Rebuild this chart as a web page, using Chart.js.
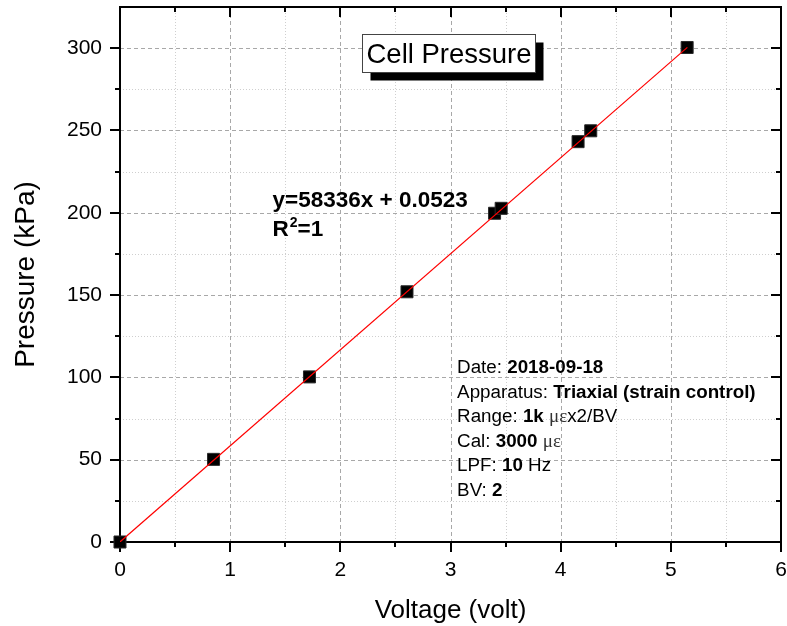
<!DOCTYPE html>
<html>
<head>
<meta charset="utf-8">
<script src="https://cdn.jsdelivr.net/npm/chart.js@4"></script>
<style>
  html, body { margin: 0; padding: 0; background: #fff; }
  canvas { display: block; }
</style>
</head>
<body>
<canvas id="chart" width="787" height="626"></canvas>
<script>
// Calibration points: transducer output vs applied cell pressure
const voltage  = [0, 0.849, 1.72, 2.605, 3.40, 3.46, 4.158, 4.273, 5.148];
const pressure = [0, 50.2, 100.3, 152.0, 199.7, 202.7, 243.2, 249.8, 300.4];

// Linear fit end points (y = 58336x + 0.0523, x scaled to volts)
const fitVoltage  = [0, 5.15];
const fitPressure = [0.0523, 300.48];

// Axis ticks
const xMajorTicks = [0, 1, 2, 3, 4, 5, 6];
const xMinorTicks = [0.5, 1.5, 2.5, 3.5, 4.5, 5.5];
const yMajorTicks = [0, 50, 100, 150, 200, 250, 300];
const yMinorTicks = [25, 75, 125, 175, 225, 275, 325];

// Text blocks
const titleText = 'Cell Pressure';
const fitEquation = 'y=58336x + 0.0523';
const fitR2 = ['R', '2', '=1'];
const infoLines = [
  [['Date: ', 'r'], ['2018-09-18', 'b']],
  [['Apparatus: ', 'r'], ['Triaxial (strain control)', 'b']],
  [['Range: ', 'r'], ['1k', 'b'], [' ', 'r'], ['\u03bc\u03b5', 's'], ['x2/BV', 'r']],
  [['Cal: ', 'r'], ['3000', 'b'], [' ', 'r'], ['\u03bc\u03b5', 's']],
  [['LPF: ', 'r'], ['10', 'b'], [' Hz', 'r']],
  [['BV: ', 'r'], ['2', 'b']]
];

const SANS = "'Liberation Sans', Arial, sans-serif";
const SERIF = "'Liberation Serif', 'Times New Roman', serif";

const gridAndFrame = {
  id: 'gridAndFrame',
  beforeDatasetsDraw(chart) {
    const { ctx, chartArea: a, scales: { x, y } } = chart;
    const px = v => Math.round(x.getPixelForValue(v)) + 0.5;
    const py = v => Math.round(y.getPixelForValue(v)) + 0.5;
    const vline = (X) => { ctx.beginPath(); ctx.moveTo(X, a.top); ctx.lineTo(X, a.bottom); ctx.stroke(); };
    const hline = (Y) => { ctx.beginPath(); ctx.moveTo(a.left, Y); ctx.lineTo(a.right, Y); ctx.stroke(); };
    ctx.save();
    ctx.lineWidth = 1;

    // minor grid: dotted
    ctx.strokeStyle = '#cfcfcf';
    ctx.setLineDash([1, 2]);
    xMinorTicks.forEach(v => vline(px(v)));
    yMinorTicks.filter(v => v < y.max).forEach(v => hline(py(v)));

    // major grid: dashed
    ctx.strokeStyle = '#a8a8a8';
    ctx.setLineDash([4, 3]);
    xMajorTicks.filter(v => v > x.min && v < x.max).forEach(v => vline(px(v)));
    yMajorTicks.filter(v => v > y.min && v < y.max).forEach(v => hline(py(v)));
    ctx.setLineDash([]);

    // tick marks: outward on bottom/left, inward on top/right
    ctx.strokeStyle = '#000';
    ctx.lineWidth = 2;
    const xTick = (v, len) => {
      const X = Math.round(x.getPixelForValue(v));
      ctx.beginPath(); ctx.moveTo(X, a.bottom); ctx.lineTo(X, a.bottom + len); ctx.stroke();
      ctx.beginPath(); ctx.moveTo(X, a.top); ctx.lineTo(X, a.top + len); ctx.stroke();
    };
    const yTick = (v, len) => {
      const Y = Math.round(y.getPixelForValue(v));
      ctx.beginPath(); ctx.moveTo(a.left - len, Y); ctx.lineTo(a.left, Y); ctx.stroke();
      ctx.beginPath(); ctx.moveTo(a.right - len, Y); ctx.lineTo(a.right, Y); ctx.stroke();
    };
    xMajorTicks.forEach(v => xTick(v, 10));
    xMinorTicks.forEach(v => xTick(v, 5));
    yMajorTicks.forEach(v => yTick(v, 10));
    yMinorTicks.filter(v => v < y.max).forEach(v => yTick(v, 5));

    // axis frame
    ctx.strokeRect(a.left, a.top, a.right - a.left, a.bottom - a.top);
    ctx.restore();
  }
};

const annotations = {
  id: 'annotations',
  afterDraw(chart) {
    const { ctx, scales: { x, y } } = chart;
    ctx.save();

    // title box with drop shadow
    const boxW = 173, boxH = 38;
    const bx = Math.round(x.getPixelForValue(2.985) - boxW / 2) + 0.5;
    const by = Math.round(y.getPixelForValue(308.6)) + 0.5;
    ctx.fillStyle = '#000';
    ctx.fillRect(bx + 8, by + 8, boxW, boxH);
    ctx.fillStyle = '#fff';
    ctx.fillRect(bx, by, boxW, boxH);
    ctx.strokeStyle = '#444';
    ctx.lineWidth = 1;
    ctx.strokeRect(bx, by, boxW, boxH);
    ctx.fillStyle = '#000';
    ctx.font = `27.5px ${SANS}`;
    ctx.textAlign = 'center';
    ctx.textBaseline = 'alphabetic';
    ctx.fillText(titleText, bx + boxW / 2, by + 28.5);

    // fit equation
    ctx.textAlign = 'left';
    const ex = x.getPixelForValue(1.385);
    const ey = y.getPixelForValue(203.7);
    ctx.font = `bold 22.5px ${SANS}`;
    ctx.fillText(fitEquation, ex, ey);
    let cx = ex;
    const ey2 = ey + 29.5;
    ctx.fillText(fitR2[0], cx, ey2);
    cx += ctx.measureText(fitR2[0]).width + 1;
    ctx.font = `bold 14px ${SANS}`;
    ctx.fillText(fitR2[1], cx, ey2 - 9);
    cx += ctx.measureText(fitR2[1]).width;
    ctx.font = `bold 22.5px ${SANS}`;
    ctx.fillText(fitR2[2], cx, ey2);

    // measurement info block
    const ix = x.getPixelForValue(3.06);
    const iy = y.getPixelForValue(102.4);
    const fonts = {
      r: `18.8px ${SANS}`,
      b: `bold 18.8px ${SANS}`,
      s: `19px ${SERIF}`
    };
    infoLines.forEach((runs, i) => {
      let lx = ix;
      const ly = iy + i * 24.5;
      runs.forEach(([text, kind]) => {
        ctx.font = fonts[kind];
        ctx.fillStyle = kind === 's' ? '#333' : '#000';
        ctx.fillText(text, lx, ly);
        lx += ctx.measureText(text).width;
      });
    });
    ctx.restore();
  }
};

const noEdgePadding = s => {
  s.paddingTop = 0; s.paddingBottom = 0; s.paddingLeft = 0; s.paddingRight = 0;
};

new Chart(document.getElementById('chart'), {
  type: 'scatter',
  data: {
    datasets: [
      {
        label: 'Linear fit',
        data: fitVoltage.map((v, i) => ({ x: v, y: fitPressure[i] })),
        showLine: true,
        borderColor: '#ff0000',
        borderWidth: 1.2,
        pointRadius: 0,
        order: 0
      },
      {
        label: 'Cell Pressure',
        data: voltage.map((v, i) => ({ x: v, y: pressure[i] })),
        pointStyle: 'rect',
        pointRadius: 8.5,
        pointHoverRadius: 8.5,
        backgroundColor: '#000',
        borderColor: '#2a2a2a',
        borderWidth: 1,
        clip: false,
        order: 1
      }
    ]
  },
  options: {
    responsive: false,
    animation: false,
    layout: { autoPadding: false, padding: { left: 0, right: 6, top: 7, bottom: 0 } },
    plugins: { legend: { display: false }, tooltip: { enabled: false } },
    scales: {
      x: {
        type: 'linear',
        min: 0,
        max: 6,
        afterBuildTicks: s => { s.ticks = xMajorTicks.map(v => ({ value: v })); },
        afterFit: s => { s.height = 84; noEdgePadding(s); },
        grid: { display: true, drawOnChartArea: false, color: 'rgba(0,0,0,0)', tickLength: 10 },
        border: { display: false },
        ticks: { color: '#000', font: { family: SANS, size: 21 }, padding: 6, maxRotation: 0 },
        title: {
          display: true,
          text: 'Voltage (volt)',
          color: '#000',
          font: { family: SANS, size: 26 },
          padding: { top: 0, bottom: 0 }
        }
      },
      y: {
        type: 'linear',
        min: 0,
        max: 325,
        afterBuildTicks: s => { s.ticks = yMajorTicks.map(v => ({ value: v })); },
        afterFit: s => { s.width = 120; noEdgePadding(s); },
        grid: { display: true, drawOnChartArea: false, color: 'rgba(0,0,0,0)', tickLength: 10 },
        border: { display: false },
        ticks: { color: '#000', font: { family: SANS, size: 21 }, padding: 8 },
        title: {
          display: true,
          text: 'Pressure (kPa)',
          color: '#000',
          font: { family: SANS, size: 28 },
          padding: { top: 9, bottom: 0 }
        }
      }
    }
  },
  plugins: [gridAndFrame, annotations]
});
</script>
</body>
</html>
